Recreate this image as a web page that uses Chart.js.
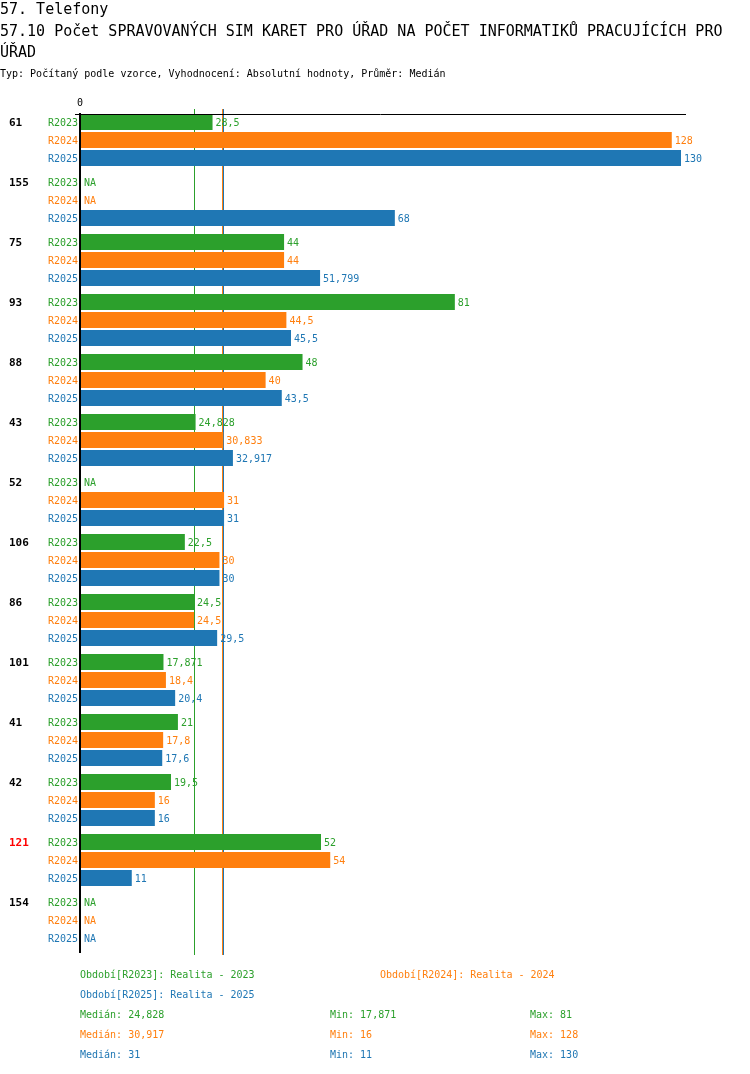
<!DOCTYPE html>
<html>
<head>
<meta charset="utf-8">
<script src="https://cdn.jsdelivr.net/npm/chart.js@4"></script>
<style>
  body { margin: 0; background: #fff; font-family: "DejaVu Sans Mono", monospace; }
  #wrap { position: relative; width: 750px; height: 1074px; }
  canvas { position: absolute; left: 0; top: 0; }
  .t { position: absolute; white-space: nowrap; }
  .h1 { font-size: 15px; line-height: 16px; left: 0; top: 1px; }
  .h2 { font-size: 15px; line-height: 21px; left: 0; top: 21px; width: 750px; white-space: normal; }
  .sub { font-size: 10px; line-height: 12px; left: 0; top: 68px; }
  .leg { font-size: 10px; line-height: 12px; }
</style>
</head>
<body>
<div id="wrap">
  <canvas id="graf" width="750" height="1074"></canvas>
  <div class="t h1">57. Telefony</div>
  <div class="t h2">57.10 Počet SPRAVOVANÝCH SIM KARET PRO ÚŘAD NA POČET INFORMATIKŮ PRACUJÍCÍCH PRO ÚŘAD</div>
  <div class="t sub">Typ: Počítaný podle vzorce, Vyhodnocení: Absolutní hodnoty, Průměr: Medián</div>
  <div id="legenda"></div>
</div>
<script>
// skupiny (ID úřadů) a období
const skupiny = ['61', '155', '75', '93', '88', '43', '52', '106', '86', '101', '41', '42', '121', '154'];
const zvyraznena = '121';
const obdobi = ['R2023', 'R2024', 'R2025'];
const popisObdobi = ['Realita - 2023', 'Realita - 2024', 'Realita - 2025'];

// hodnoty (null = NA)
const r2023 = [28.5, null, 44, 81, 48, 24.828, null, 22.5, 24.5, 17.871, 21, 19.5, 52, null];
const r2024 = [128, null, 44, 44.5, 40, 30.833, 31, 30, 24.5, 18.4, 17.8, 16, 54, null];
const r2025 = [130, 68, 51.799, 45.5, 43.5, 32.917, 31, 30, 29.5, 20.4, 17.6, 16, 11, null];

// souhrn
const mediany = [24.828, 30.917, 31];
const minima = [17.871, 16, 11];
const maxima = [81, 128, 130];

const barvy = ['#2ca02c', '#ff7f0e', '#1f77b4'];
const hodnoty = [r2023, r2024, r2025];
const pismo = '"DejaVu Sans Mono", monospace';

function fmt(v) {
  return String(v).replace('.', ',');
}

// legenda pod grafem
const leg = document.getElementById('legenda');
function pridej(text, x, y, barva) {
  const d = document.createElement('div');
  d.className = 't leg';
  d.style.left = x + 'px';
  d.style.top = (y - 6) + 'px';
  d.style.color = barva;
  d.textContent = text;
  leg.appendChild(d);
}
pridej('Období[' + obdobi[0] + ']: ' + popisObdobi[0], 80, 975, barvy[0]);
pridej('Období[' + obdobi[1] + ']: ' + popisObdobi[1], 380, 975, barvy[1]);
pridej('Období[' + obdobi[2] + ']: ' + popisObdobi[2], 80, 995, barvy[2]);
for (let i = 0; i < 3; i++) {
  const y = 1015 + i * 20;
  pridej('Medián: ' + fmt(mediany[i]), 80, y, barvy[i]);
  pridej('Min: ' + fmt(minima[i]), 330, y, barvy[i]);
  pridej('Max: ' + fmt(maxima[i]), 530, y, barvy[i]);
}

// mediánové čáry pod sloupci, osy nad nimi
const medianPlugin = {
  id: 'mediany',
  beforeDatasetsDraw(chart) {
    const { ctx, chartArea, scales } = chart;
    ctx.save();
    ctx.lineWidth = 1;
    mediany.forEach((m, i) => {
      const x = Math.floor(scales.x.getPixelForValue(m)) - 1 + 0.5;
      ctx.strokeStyle = barvy[i];
      ctx.beginPath();
      ctx.moveTo(x, chartArea.top - 1);
      ctx.lineTo(x, chartArea.bottom + 5);
      ctx.stroke();
    });
    ctx.restore();
  },
  afterDatasetsDraw(chart) {
    const { ctx, chartArea, scales } = chart;
    ctx.save();
    const x0 = scales.x.getPixelForValue(0);
    ctx.strokeStyle = '#000';
    ctx.lineWidth = 2;
    ctx.beginPath(); ctx.moveTo(x0 - 1, chartArea.top + 3); ctx.lineTo(x0 - 1, chartArea.bottom + 3); ctx.stroke();
    ctx.lineWidth = 1;
    ctx.beginPath(); ctx.moveTo(x0 - 6, chartArea.top + 4.5); ctx.lineTo(chartArea.right + 5, chartArea.top + 4.5); ctx.stroke();
    ctx.fillStyle = '#000';
    ctx.font = '10px ' + pismo;
    ctx.textAlign = 'center';
    ctx.textBaseline = 'middle';
    ctx.fillText('0', x0 - 1, chartArea.top - 7);
    ctx.restore();
  }
};

// popisky sloupců, období a skupin
const popiskyPlugin = {
  id: 'popisky',
  afterDraw(chart) {
    const { ctx, scales } = chart;
    const x0 = scales.x.getPixelForValue(0);
    ctx.save();
    ctx.textBaseline = 'middle';
    chart.data.datasets.forEach((ds, d) => {
      const meta = chart.getDatasetMeta(d);
      meta.data.forEach((bar, i) => {
        const y = bar.y;
        const v = ds.data[i];
        ctx.font = '10px ' + pismo;
        ctx.fillStyle = barvy[d];
        ctx.textAlign = 'right';
        ctx.fillText(obdobi[d], x0 - 3, y + 1);
        ctx.textAlign = 'left';
        if (v === null) {
          ctx.fillText('NA', x0 + 3, y + 1);
        } else {
          ctx.fillText(fmt(v), bar.x + 3, y + 1);
        }
        if (d === 0) {
          ctx.font = 'bold 11px ' + pismo;
          ctx.fillStyle = skupiny[i] === zvyraznena ? '#ff0000' : '#000';
          ctx.fillText(skupiny[i], 9, y + 1);
        }
      });
    });
    ctx.restore();
  }
};

new Chart(document.getElementById('graf').getContext('2d'), {
  type: 'bar',
  data: {
    labels: skupiny,
    datasets: obdobi.map((o, d) => ({
      label: o,
      data: hodnoty[d],
      backgroundColor: barvy[d],
      borderWidth: 0,
      categoryPercentage: 0.9,
      barPercentage: 16 / 18
    }))
  },
  options: {
    indexAxis: 'y',
    responsive: false,
    animation: false,
    devicePixelRatio: 1,
    layout: { padding: { left: 81, right: 69, top: 110, bottom: 124 } },
    plugins: { legend: { display: false }, tooltip: { enabled: false } },
    scales: {
      x: { min: 0, max: 130, display: false },
      y: { display: false }
    }
  },
  plugins: [medianPlugin, popiskyPlugin]
});
</script>
</body>
</html>
